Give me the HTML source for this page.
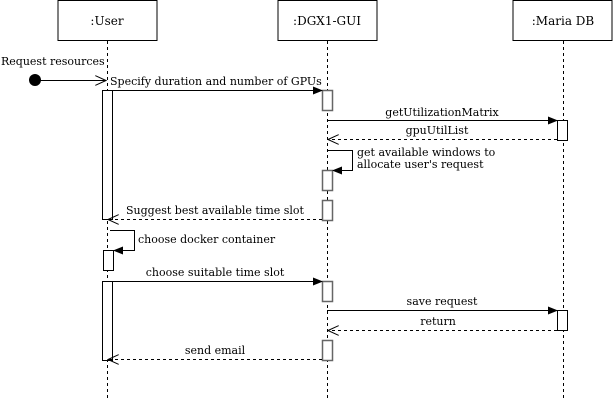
<!DOCTYPE html>
<html><head><style>body{margin:0;background:#fff}</style></head><body>
<svg width="614" height="401" xmlns="http://www.w3.org/2000/svg" font-family="DejaVu Serif, Liberation Serif, serif" font-size="11">
<defs>
<marker id="f" markerWidth="10" markerHeight="8" refX="9" refY="4" orient="auto" markerUnits="userSpaceOnUse"><path d="M0,0L10,4L0,8z" fill="#000"/></marker>
<marker id="o" markerWidth="12" markerHeight="10" refX="11" refY="5" orient="auto" markerUnits="userSpaceOnUse"><path d="M0,0L11,5L0,10" fill="none" stroke="#000"/></marker>
</defs>
<g fill="#fff" stroke="#000">
<rect x="58" y="0.5" width="99" height="40"/><rect x="278" y="0.5" width="99" height="40"/><rect x="513" y="0.5" width="99" height="40"/>
</g>
<g font-size="12" text-anchor="middle"><text x="107" y="25">:User</text><text x="327" y="25">:DGX1-GUI</text><text x="563" y="25">:Maria DB</text></g>
<g stroke="#000" stroke-dasharray="3,3"><line x1="107.5" y1="41" x2="107.5" y2="398"/><line x1="327.5" y1="41" x2="327.5" y2="398"/><line x1="563.5" y1="41" x2="563.5" y2="398"/></g>
<circle cx="35" cy="80" r="6" fill="#000"/>
<line x1="35" y1="80.5" x2="106" y2="80.5" stroke="#000" marker-end="url(#o)"/>
<text x="1" y="65">Request resources</text>
<text x="110" y="85">Specify duration and number of GPUs</text>
<g fill="#fff" stroke="#000">
<rect x="102.5" y="90.5" width="10" height="129"/>
<rect x="102.5" y="281.5" width="10" height="79"/>
<rect x="103.5" y="250.5" width="10" height="20"/>
<rect x="557.5" y="120.5" width="10" height="20"/>
<rect x="557.5" y="310.5" width="10" height="20"/>
</g>
<g fill="#fff" stroke="#666" stroke-width="1.5">
<rect x="322.5" y="90.5" width="10" height="20"/><rect x="322.5" y="170.5" width="10" height="20"/><rect x="322.5" y="200.5" width="10" height="20"/><rect x="322.5" y="281.5" width="10" height="20"/><rect x="322.5" y="340.5" width="10" height="20"/>
</g>
<g stroke="#000" fill="none">
<line x1="112" y1="90.5" x2="322" y2="90.5" marker-end="url(#f)"/>
<line x1="327" y1="120.5" x2="557" y2="120.5" marker-end="url(#f)"/>
<line x1="557" y1="139.5" x2="328" y2="139.5" stroke-dasharray="3,3" marker-end="url(#o)"/>
<path d="M327,150.5H352.5V170.5H333" marker-end="url(#f)"/>
<line x1="322" y1="219.5" x2="108" y2="219.5" stroke-dasharray="3,3" marker-end="url(#o)"/>
<path d="M110,230.5H134.5V250.5H114" marker-end="url(#f)"/>
<line x1="112" y1="281.5" x2="322" y2="281.5" marker-end="url(#f)"/>
<line x1="327" y1="310.5" x2="557" y2="310.5" marker-end="url(#f)"/>
<line x1="557" y1="330.5" x2="328" y2="330.5" stroke-dasharray="3,3" marker-end="url(#o)"/>
<line x1="322" y1="359.5" x2="108" y2="359.5" stroke-dasharray="3,3" marker-end="url(#o)"/>
</g>
<text x="442" y="116" text-anchor="middle">getUtilizationMatrix</text>
<text x="437" y="134" text-anchor="middle">gpuUtilList</text>
<text x="357" y="156">get available windows to</text>
<text x="357" y="168">allocate user's request</text>
<text x="215" y="214" text-anchor="middle">Suggest best available time slot</text>
<text x="138" y="243">choose docker container</text>
<text x="215" y="276" text-anchor="middle">choose suitable time slot</text>
<text x="442" y="305" text-anchor="middle">save request</text>
<text x="438" y="325" text-anchor="middle">return</text>
<text x="215" y="354" text-anchor="middle">send email</text>
</svg>
</body></html>
